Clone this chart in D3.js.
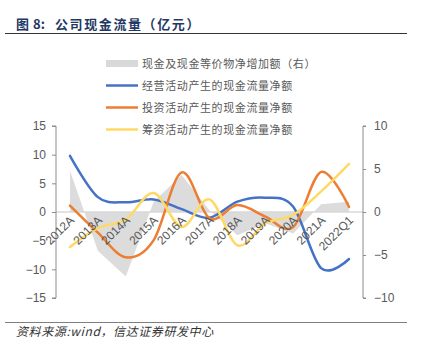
<!DOCTYPE html>
<html><head><meta charset="utf-8">
<script src="https://cdn.jsdelivr.net/npm/d3@7"></script>
<style>
html,body{margin:0;padding:0;background:#fff;}
svg{display:block;}
</style></head>
<body>
<svg id="c" width="422" height="354"></svg>
<script>
const categories = ['2012A','2013A','2014A','2015A','2016A','2017A','2018A','2019A','2020A','2021A','2022Q1'];
const netIncrease = [4.8, -4.5, -7.5, 1.2, 4.3, 0.2, -2.7, -1.3, -2.5, 0.9, 1.2];   // right axis
const operating   = [9.8, 2.6, 1.7, 2.2, 0.5, -1.0, 1.8, 2.5, 0.9, -9.8, -8.2];
const investing   = [1.1, -3.6, -7.9, -4.9, 6.9, -1.1, 1.2, -0.8, -2.6, 7.0, 0.9];
const financing   = [-6.1, -2.8, -1.3, 3.3, -2.6, 2.2, -5.8, -2.0, -0.5, 3.6, 8.4];
const leftTicks = [15, 10, 5, 0, -5, -10, -15];
const rightTicks = [10, 5, 0, -5, -10];
const legendNames = ['现金及现金等价物净增加额（右）','经营活动产生的现金流量净额','投资活动产生的现金流量净额','筹资活动产生的现金流量净额'];

const svg = d3.select('#c');
const L = 56, R = 363, T = 126, B = 298;
const x = d3.scaleBand().domain(categories).range([L, R]).padding(0);
const cx = d => x(d) + x.bandwidth() / 2;
const yL = d3.scaleLinear().domain([-15, 15]).range([B, T]);
const yR = d3.scaleLinear().domain([-10, 10]).range([B, T]);
const textCol = '#595959';
const cjk = '"Noto Sans CJK SC", "Noto Sans", sans-serif';
const latin = '"Liberation Sans", Arial, sans-serif';

// Title
const titleG = svg.append('g').attr('fill', '#1f3864')
  .attr('font-family', cjk).attr('font-weight', 'bold').attr('font-size', 13);
titleG.append('text').attr('x', 16).attr('y', 29).text('图');
titleG.append('text').attr('x', 33).attr('y', 29).text('8:');
titleG.append('text').attr('x', 55).attr('y', 29).attr('letter-spacing', 1.6)
  .text('公司现金流量（亿元）');
svg.append('line').attr('x1', 5).attr('x2', 407).attr('y1', 33.5).attr('y2', 33.5)
  .attr('stroke', '#333').attr('stroke-width', 1);

// Area (right axis)
const area = d3.area().x((d, i) => cx(categories[i])).y0(yR(0)).y1(d => yR(d));
svg.append('path').datum(netIncrease).attr('d', area).attr('fill', '#dcdcdc');

// Zero line
svg.append('line').attr('x1', L).attr('x2', R).attr('y1', yL(0)).attr('y2', yL(0))
  .attr('stroke', '#d9d9d9').attr('stroke-width', 1.5);

// Left axis
const gL = svg.append('g').attr('transform', `translate(${L},0)`)
  .call(d3.axisLeft(yL).tickValues(leftTicks).tickSize(4).tickPadding(6).tickFormat(d3.format('d')));
gL.select('.domain').attr('stroke', '#8c8c8c').attr('d', `M-4,${T}H0V${B}H-4`);
gL.selectAll('.tick line').attr('stroke', '#8c8c8c');
gL.selectAll('.tick text').attr('fill', textCol).attr('font-family', latin).attr('font-size', 12);

// Right axis
const gR = svg.append('g').attr('transform', `translate(${R},0)`)
  .call(d3.axisRight(yR).tickValues(rightTicks).tickSize(3).tickPadding(8).tickFormat(d3.format('d')));
gR.select('.domain').attr('stroke', '#8c8c8c').attr('d', `M3,${T}H0V${B}H3`);
gR.selectAll('.tick line').attr('stroke', '#8c8c8c');
gR.selectAll('.tick text').attr('fill', textCol).attr('font-family', latin).attr('font-size', 12);

// Lines
const line = d3.line().x((d, i) => cx(categories[i])).y(d => yL(d)).curve(d3.curveCardinal.tension(0));
const series = [[operating, '#4472c4'], [investing, '#ed7d31'], [financing, '#ffd966']];
series.forEach(([vals, col]) => {
  svg.append('path').datum(vals).attr('d', line).attr('fill', 'none')
    .attr('stroke', col).attr('stroke-width', 2.5).attr('stroke-linecap', 'round');
});

// X labels (rotated)
svg.append('g').selectAll('text').data(categories).join('text')
  .attr('transform', d => `translate(${cx(d) + 5},${yL(0) + 9}) rotate(-45)`)
  .attr('text-anchor', 'end').attr('fill', textCol)
  .attr('font-family', latin).attr('font-size', 12)
  .text(d => d);

// Legend
const legY = [63.5, 85.5, 107.5, 129.5];
const legCols = ['#d9d9d9', '#4472c4', '#ed7d31', '#ffd966'];
legendNames.forEach((name, i) => {
  if (i === 0) {
    svg.append('rect').attr('x', 106).attr('y', legY[i] - 3.5).attr('width', 32).attr('height', 7).attr('fill', legCols[i]);
  } else {
    svg.append('line').attr('x1', 106).attr('x2', 138).attr('y1', legY[i]).attr('y2', legY[i])
      .attr('stroke', legCols[i]).attr('stroke-width', 2.5);
  }
  svg.append('text').attr('x', 142).attr('y', legY[i] + 4).attr('fill', textCol)
    .attr('font-family', cjk).attr('font-size', 11).attr('letter-spacing', 0.6).text(name);
});

// Source
svg.append('line').attr('x1', 5).attr('x2', 407).attr('y1', 322.5).attr('y2', 322.5)
  .attr('stroke', '#7f7f7f').attr('stroke-width', 1);
svg.append('text').attr('x', 16).attr('y', 336).attr('fill', '#333')
  .attr('font-family', cjk).attr('font-style', 'italic').attr('font-size', 12)
  .attr('letter-spacing', 0.6)
  .text('资料来源:wind，信达证券研发中心');
</script>
</body></html>
